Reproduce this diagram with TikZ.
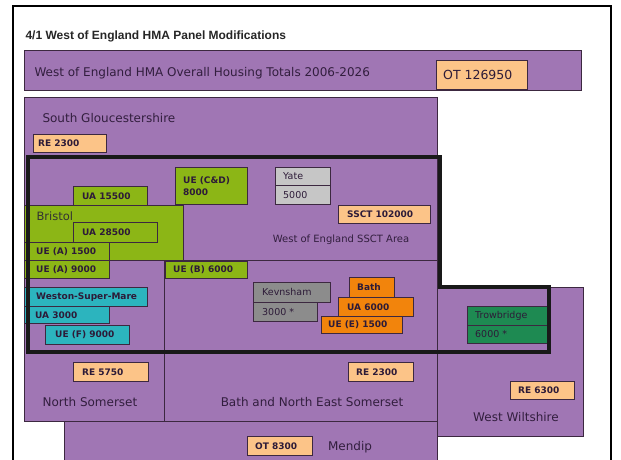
\documentclass[tikz,border=0pt]{standalone}
\usepackage{fontspec}
\setmainfont{DejaVu Sans}
\newfontfamily\titlefont{Liberation Sans}
\definecolor{lilac}{RGB}{160,118,180}
\definecolor{edge}{RGB}{60,40,64}
\definecolor{ink}{RGB}{50,30,62}
\definecolor{peach}{RGB}{252,196,136}
\definecolor{lime}{RGB}{140,182,22}
\definecolor{paleg}{RGB}{198,198,198}
\definecolor{darkg}{RGB}{140,140,140}
\definecolor{amber}{RGB}{242,132,12}
\definecolor{cyanbox}{RGB}{44,180,190}
\definecolor{pine}{RGB}{30,138,82}
\begin{document}
\begin{tikzpicture}[x=1pt,y=-1pt]
  \tikzstyle{region}=[draw=edge, fill=lilac, line width=0.8pt]
  \tikzstyle{tag}=[draw=edge, line width=0.8pt, anchor=north west, inner sep=0pt]
  \tikzstyle{tagtext}=[anchor=west, inner sep=0pt, text=ink!90!black, font=\bfseries\fontsize{9}{11.5}\selectfont]
  \tikzstyle{plaintext}=[tagtext, font=\mdseries\fontsize{9.5}{11.5}\selectfont]
  \tikzstyle{big}=[text=ink, font=\fontsize{12}{14}\selectfont]

  \useasboundingbox (0,0) rectangle (621,459);
  \clip (0,0) rectangle (621,459);
  \fill[white] (0,0) rectangle (621,459);

  % page frame and heading
  \draw[line width=2pt] (13,470) -- (13,6) -- (611,6) -- (611,470);
  \node[anchor=west, text=black!85, font=\titlefont\bfseries\fontsize{12}{14}\selectfont] (title) at (22,36) {4/1 West of England HMA Panel Modifications};

  % areas
  \draw[region] (24,50) rectangle (581,90);
  \draw[region] (24,97) rectangle (437,260);
  \draw[region] (437,287) rectangle (583,436);
  \draw[region] (24,260) rectangle (164,421);
  \draw[region] (164,260) rectangle (437,421);
  \draw[region] (64,421) rectangle (437,470);
  \draw[draw=edge, fill=lime, line width=0.8pt] (24,205) rectangle (183,260);

  \node[big, anchor=west] (hma) at (31,73) {West of England HMA Overall Housing Totals 2006-2026};
  \node[big, anchor=west] (sg) at (39,118) {South Gloucestershire};
  \node[big, anchor=west, text=black!80, font=\fontsize{11.5}{13}\selectfont] (bristol) at (33,216) {Bristol};
  \node[big, font=\fontsize{10}{12}\selectfont] (ssctarea) at (341,240) {West of England SSCT Area};
  \node[big] (ns) at (90,402) {North Somerset};
  \node[big] (bnes) at (312,402) {Bath and North East Somerset};
  \node[big] (ww) at (516,417) {West Wiltshire};
  \node[big] (mendip) at (350,447) {Mendip};

  % totals
  \node[tag, fill=peach, minimum width=91pt, minimum height=29pt, label={[plaintext, font=\fontsize{12.5}{14}\selectfont, xshift=7pt]west:OT 126950}] (ot) at (436,60) {};
  \node[tag, fill=peach, minimum width=73pt, minimum height=18pt, label={[tagtext, xshift=5pt]west:RE 2300}] (resg) at (33,134) {};
  \node[tag, fill=peach, minimum width=92pt, minimum height=18pt, label={[tagtext, xshift=9pt]west:SSCT 102000}] (ssct) at (338,205) {};
  \node[tag, fill=peach, minimum width=75pt, minimum height=19pt, label={[tagtext, xshift=9pt]west:RE 5750}] (rens) at (73,362) {};
  \node[tag, fill=peach, minimum width=65pt, minimum height=19pt, label={[tagtext, xshift=8pt]west:RE 2300}] (rebnes) at (348,362) {};
  \node[tag, fill=peach, minimum width=64pt, minimum height=18pt, label={[tagtext, xshift=8pt]west:RE 6300}] (reww) at (510,381) {};
  \node[tag, fill=peach, minimum width=65pt, minimum height=19pt, label={[tagtext, xshift=8pt]west:OT 8300}] (otmen) at (247,436) {};

  % Bristol
  \node[tag, fill=lime, minimum width=72pt, minimum height=37pt, label={[tagtext, align=left, xshift=8pt]west:UE (C\&D)\\8000}] (uecd) at (175,167) {};
  \node[tag, fill=lime, minimum width=74pt, minimum height=19pt, label={[tagtext, xshift=9pt]west:UA 15500}] (ua15) at (73,186) {};
  \node[tag, fill=lime, minimum width=84pt, minimum height=20pt, label={[tagtext, xshift=9pt]west:UA 28500}] (ua28) at (73,222) {};
  \node[tag, fill=lime, minimum width=85pt, minimum height=18pt, label={[tagtext, xshift=12pt]west:UE (A) 1500}] (uea15) at (24,242) {};
  \node[tag, fill=lime, minimum width=85pt, minimum height=18pt, label={[tagtext, xshift=12pt]west:UE (A) 9000}] (uea90) at (24,260) {};
  \node[tag, fill=lime, minimum width=82pt, minimum height=17pt, label={[tagtext, xshift=8pt]west:UE (B) 6000}] (ueb) at (165,261) {};

  % Yate and Keynsham
  \node[tag, fill=paleg, minimum width=55pt, minimum height=18pt, label={[plaintext, xshift=8pt]west:Yate}] (yate) at (275,167) {};
  \node[tag, fill=paleg, minimum width=55pt, minimum height=19pt, label={[plaintext, xshift=8pt]west:5000}] (yate5) at (275,185) {};
  \node[tag, fill=darkg, minimum width=77pt, minimum height=20pt, label={[plaintext, xshift=9pt]west:Kevnsham}] (kev) at (253,282) {};
  \node[tag, fill=darkg, minimum width=64pt, minimum height=19pt, label={[plaintext, xshift=9pt]west:3000 *}] (kev3) at (253,302) {};

  % Bath
  \node[tag, fill=amber, minimum width=45pt, minimum height=20pt, label={[tagtext, xshift=8pt]west:Bath}] (bath) at (349,277) {};
  \node[tag, fill=amber, minimum width=75pt, minimum height=19pt, label={[tagtext, xshift=9pt]west:UA 6000}] (bathua) at (338,297) {};
  \node[tag, fill=amber, minimum width=81pt, minimum height=17pt, label={[tagtext, xshift=7pt]west:UE (E) 1500}] (bathue) at (321,316) {};

  % Weston-Super-Mare
  \node[tag, fill=cyanbox, minimum width=123pt, minimum height=19pt, label={[tagtext, xshift=12pt]west:Weston-Super-Mare}] (wsm) at (24,287) {};
  \node[tag, fill=cyanbox, minimum width=85pt, minimum height=17pt, label={[tagtext, xshift=11pt]west:UA 3000}] (wsmua) at (24,306) {};
  \node[tag, fill=cyanbox, minimum width=84pt, minimum height=19pt, label={[tagtext, xshift=10pt]west:UE (F) 9000}] (wsmue) at (45,325) {};

  % Trowbridge
  \node[tag, fill=pine, minimum width=82pt, minimum height=19pt, label={[plaintext, xshift=8pt]west:Trowbridge}] (trow) at (467,306) {};
  \node[tag, fill=pine, minimum width=82pt, minimum height=18pt, label={[plaintext, xshift=8pt]west:6000 *}] (trow6) at (467,325) {};

  % SSCT boundary
  \draw[line width=4pt, black!90] (28,157) -- (440,157) -- (440,287) -- (549,287) -- (549,352) -- (28,352) -- cycle;
\end{tikzpicture}
\end{document}
